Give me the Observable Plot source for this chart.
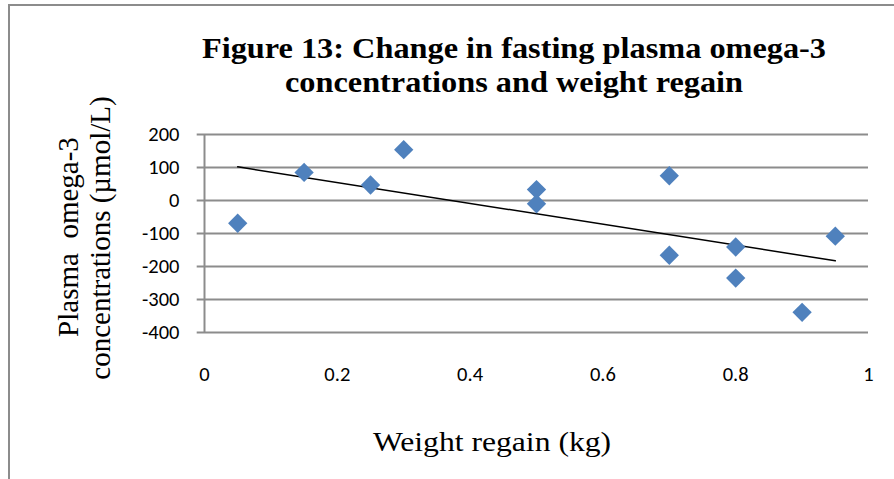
<!DOCTYPE html>
<html>
<head>
<meta charset="utf-8">
<script src="https://cdn.jsdelivr.net/npm/d3@7"></script>
<script src="https://cdn.jsdelivr.net/npm/@observablehq/plot@0.6"></script>
<style>
  html, body { margin: 0; padding: 0; background: #fff; }
  #wrap { position: relative; width: 894px; height: 479px; overflow: hidden; background: #fff; }
  #frame { position: absolute; left: 8px; top: 4px; width: 900px; height: 500px; border-left: 2px solid #8c8c8c; border-top: 2px solid #8c8c8c; }
  .serif { font-family: "Liberation Serif", "Times New Roman", serif; color: #000; }
  #title { position: absolute; left: 114px; width: 800px; top: 31px; text-align: center;
    font-weight: bold; font-size: 30px; line-height: 33.5px; transform: scaleX(1.077); transform-origin: 400px 0; }
  .ylab { position: absolute; width: 400px; text-align: center; font-size: 29px; line-height: 32px; white-space: pre;
    transform: translate(-50%, -50%) rotate(-90deg); }
  #xlabel { position: absolute; left: 292px; width: 400px; top: 425.6px; text-align: center;
    font-size: 28px; line-height: 32px; transform: scaleX(1.13); transform-origin: 200px 0; }
  #chart { position: absolute; left: 0; top: 0; }
</style>
</head>
<body>
<div id="wrap">
  <div id="frame"></div>
  <div id="chart"></div>
  <div id="title" class="serif">Figure 13: Change in fasting plasma omega-3<br>concentrations and weight regain</div>
  <div class="ylab serif" style="left:68px; top:237px;">Plasma  omega-3</div>
  <div class="ylab serif" style="left:100px; top:238px;">concentrations (µmol/L)</div>
  <div id="xlabel" class="serif">Weight regain (kg)</div>
</div>
<script>
const weightRegain = [0.05, 0.15, 0.25, 0.3, 0.5, 0.5, 0.7, 0.7, 0.8, 0.8, 0.9, 0.95];
const omega3 = [-69, 85, 47, 154, 33, -10, 75, -166, -141, -235, -339, -108];
const xTicks = [0, 0.2, 0.4, 0.6, 0.8, 1];
const yTicks = [-400, -300, -200, -100, 0, 100, 200];

const data = weightRegain.map((w, i) => ({x: w, y: omega3[i]}));

const chart = Plot.plot({
  width: 894,
  height: 479,
  marginLeft: 204,
  marginRight: 26,
  marginTop: 134,
  marginBottom: 147,
  style: {fontFamily: "Carlito, Lato, 'Liberation Sans', sans-serif", fontSize: "20.5px", color: "#000", background: "transparent"},
  x: {domain: [0, 1], ticks: xTicks, tickFormat: d => String(d), tickSize: 0, tickPadding: 34, label: null},
  y: {domain: [-400, 200], ticks: yTicks, tickFormat: d => String(d), tickSize: 0, tickPadding: 25, label: null},
  marks: [
    Plot.ruleY(yTicks, {x1: -0.011, x2: 1, stroke: "#8c8c8c", strokeWidth: 2}),
    Plot.ruleX([0], {y1: -400, y2: 200, stroke: "#8c8c8c", strokeWidth: 2}),
    Plot.linearRegressionY(data, {x: "x", y: "y", ci: 0, stroke: "#000", strokeWidth: 1.5}),
    Plot.dot(data, {x: "x", y: "y", symbol: "diamond2", r: 8.7, fill: "#4f81bd", stroke: "none"})
  ]
});
document.getElementById("chart").appendChild(chart);
</script>
</body>
</html>
